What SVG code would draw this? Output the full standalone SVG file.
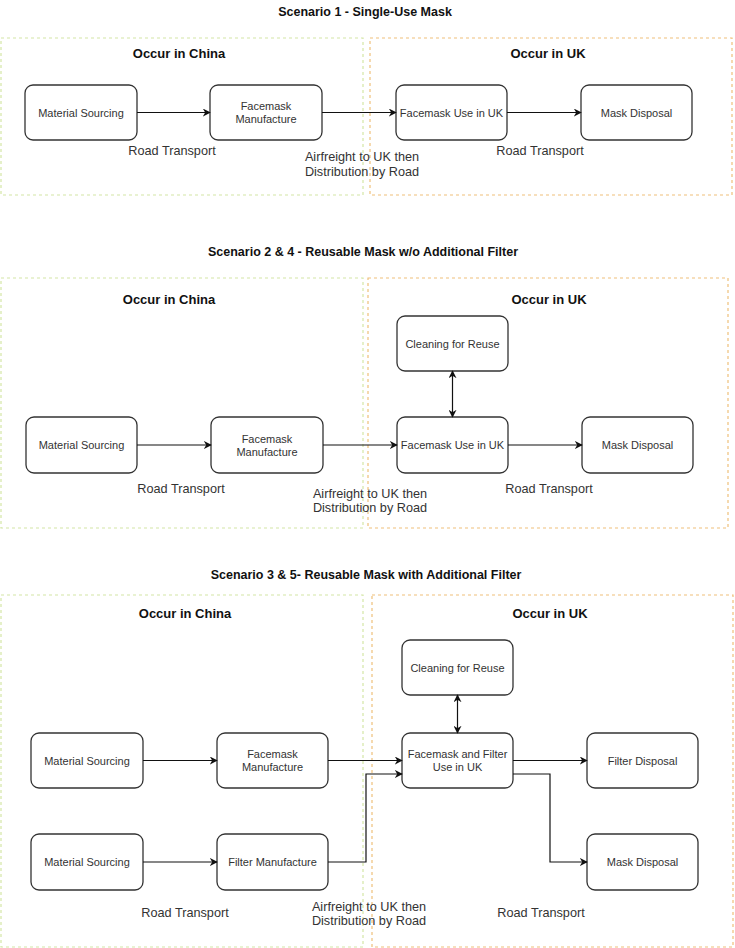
<svg xmlns="http://www.w3.org/2000/svg" width="735" height="948" viewBox="0 0 735 948">
<defs>
<marker id="ah" viewBox="0 0 10 10" refX="9" refY="5" markerWidth="8" markerHeight="8" markerUnits="userSpaceOnUse" orient="auto-start-reverse">
<path d="M0,0 L10,5 L0,10 L3,5 z" fill="#111"/>
</marker>
<style>
.title{font-family:"Liberation Sans",Arial,sans-serif;font-weight:bold;font-size:12.5px;fill:#111;text-anchor:middle}
.region{font-family:"Liberation Sans",Arial,sans-serif;font-weight:bold;font-size:13px;fill:#111;text-anchor:middle}
.cn{fill:none;stroke:#d4e6a6;stroke-width:1.2;stroke-dasharray:3 3}
.uk{fill:none;stroke:#efc07a;stroke-width:1.2;stroke-dasharray:3 3}
.node rect{fill:#fff;stroke:#333;stroke-width:1.3}
.node text{font-family:"Liberation Sans",Arial,sans-serif;font-size:11px;fill:#333;text-anchor:middle;dominant-baseline:central}
.lbl{font-family:"Liberation Sans",Arial,sans-serif;font-size:12.7px;fill:#333;text-anchor:middle;dominant-baseline:central}
.edge{fill:none;stroke:#111;stroke-width:1.2;marker-end:url(#ah)}
.dbl{marker-start:url(#ah)}
</style>
</defs>
<rect width="735" height="948" fill="#fff"/>

<!-- Scenario 1 -->
<g id="scenario1">
<text class="title" x="365" y="16">Scenario 1 - Single-Use Mask</text>
<rect id="s1-china" class="cn" x="1" y="38" width="362" height="157"/>
<rect id="s1-uk" class="uk" x="370" y="38" width="362" height="157"/>
<text class="region" x="179" y="58">Occur in China</text>
<text class="region" x="548" y="58">Occur in UK</text>
<text class="lbl" x="172" y="151">Road Transport</text>
<text class="lbl" x="362" y="157">Airfreight to UK then</text>
<text class="lbl" x="362" y="172">Distribution by Road</text>
<text class="lbl" x="540" y="151">Road Transport</text>
</g>
<g id="s1-material" class="node"><rect x="25" y="85" width="112" height="55" rx="8"/><text x="81" y="112.5">Material Sourcing</text></g>
<g id="s1-manufacture" class="node"><rect x="210" y="85" width="112" height="55" rx="8"/><text x="266" y="106">Facemask</text><text x="266" y="119">Manufacture</text></g>
<g id="s1-use" class="node"><rect x="396" y="85" width="111" height="55" rx="8"/><text x="451.5" y="112.5">Facemask Use in UK</text></g>
<g id="s1-disposal" class="node"><rect x="581" y="85" width="111" height="55" rx="8"/><text x="636.5" y="112.5">Mask Disposal</text></g>

<!-- Scenario 2 -->
<g id="scenario2">
<text class="title" x="363" y="256">Scenario 2 &amp; 4 - Reusable Mask w/o Additional Filter</text>
<rect id="s2-china" class="cn" x="1" y="278" width="362" height="250"/>
<rect id="s2-uk" class="uk" x="368" y="278" width="360" height="250"/>
<text class="region" x="169" y="304">Occur in China</text>
<text class="region" x="549" y="304">Occur in UK</text>
<text class="lbl" x="181" y="489">Road Transport</text>
<text class="lbl" x="370" y="494">Airfreight to UK then</text>
<text class="lbl" x="370" y="508">Distribution by Road</text>
<text class="lbl" x="549" y="489">Road Transport</text>
</g>
<g id="s2-material" class="node"><rect x="26" y="417" width="111" height="56" rx="8"/><text x="81.5" y="445">Material Sourcing</text></g>
<g id="s2-manufacture" class="node"><rect x="211" y="417" width="112" height="56" rx="8"/><text x="267" y="439">Facemask</text><text x="267" y="452">Manufacture</text></g>
<g id="s2-cleaning" class="node"><rect x="397" y="316" width="111" height="55" rx="8"/><text x="452.5" y="343.5">Cleaning for Reuse</text></g>
<g id="s2-use" class="node"><rect x="397" y="417" width="111" height="56" rx="8"/><text x="452.5" y="445">Facemask Use in UK</text></g>
<g id="s2-disposal" class="node"><rect x="582" y="417" width="111" height="56" rx="8"/><text x="637.5" y="445">Mask Disposal</text></g>

<!-- Scenario 3 -->
<g id="scenario3">
<text class="title" x="366" y="579">Scenario 3 &amp; 5- Reusable Mask with Additional Filter</text>
<rect id="s3-china" class="cn" x="1" y="595" width="362" height="352"/>
<rect id="s3-uk" class="uk" x="372" y="595" width="361" height="352"/>
<text class="region" x="185" y="618">Occur in China</text>
<text class="region" x="550" y="618">Occur in UK</text>
<text class="lbl" x="185" y="913">Road Transport</text>
<text class="lbl" x="369" y="907">Airfreight to UK then</text>
<text class="lbl" x="369" y="921">Distribution by Road</text>
<text class="lbl" x="541" y="913">Road Transport</text>
</g>
<g id="s3-material1" class="node"><rect x="31" y="733" width="112" height="55" rx="8"/><text x="87" y="760.5">Material Sourcing</text></g>
<g id="s3-manufacture" class="node"><rect x="217" y="733" width="111" height="55" rx="8"/><text x="272.5" y="754">Facemask</text><text x="272.5" y="767">Manufacture</text></g>
<g id="s3-material2" class="node"><rect x="31" y="834" width="112" height="56" rx="8"/><text x="87" y="862">Material Sourcing</text></g>
<g id="s3-filter" class="node"><rect x="217" y="834" width="111" height="56" rx="8"/><text x="272.5" y="862">Filter Manufacture</text></g>
<g id="s3-cleaning" class="node"><rect x="402" y="640" width="111" height="55" rx="8"/><text x="457.5" y="667.5">Cleaning for Reuse</text></g>
<g id="s3-use" class="node"><rect x="402" y="733" width="111" height="55" rx="8"/><text x="457.5" y="754">Facemask and Filter</text><text x="457.5" y="767">Use in UK</text></g>
<g id="s3-filterdisposal" class="node"><rect x="587" y="733" width="111" height="55" rx="8"/><text x="642.5" y="760.5">Filter Disposal</text></g>
<g id="s3-maskdisposal" class="node"><rect x="587" y="834" width="111" height="56" rx="8"/><text x="642.5" y="862">Mask Disposal</text></g>

<!-- Connectors -->
<g id="connectors">
<path class="edge" d="M137,112.5 H210"/>
<path class="edge" d="M322,112.5 H396"/>
<path class="edge" d="M507,112.5 H581"/>

<path class="edge" d="M137,445 H211"/>
<path class="edge" d="M323,445 H397"/>
<path class="edge" d="M508,445 H582"/>
<path class="edge dbl" d="M452.5,371 V417"/>

<path class="edge" d="M143,760.5 H217"/>
<path class="edge" d="M328,760.5 H402"/>
<path class="edge" d="M143,862 H217"/>
<path class="edge" d="M328,862 H366 V774 H402"/>
<path class="edge" d="M513,760.5 H587"/>
<path class="edge" d="M513,774 H550 V862 H587"/>
<path class="edge dbl" d="M457.5,695 V733"/>
</g>
</svg>
